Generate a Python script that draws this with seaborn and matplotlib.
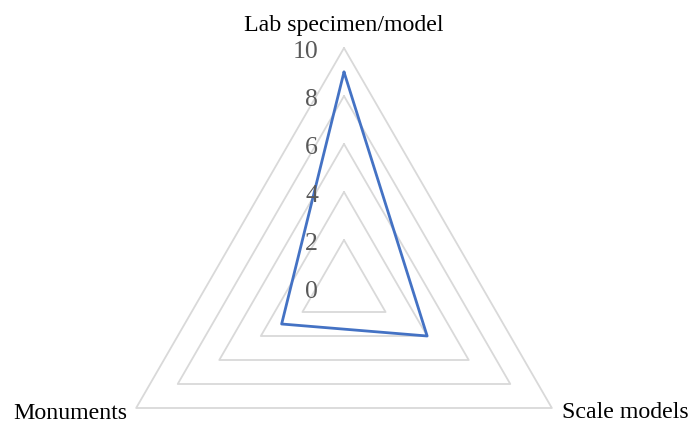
import numpy as np
import pandas as pd
import matplotlib
matplotlib.use("Agg")
import matplotlib.pyplot as plt
import seaborn as sns

categories = ["Lab specimen/model", "Scale models", "Monuments"]
values = [9, 4, 3]
ring_values = [2, 4, 6, 8, 10]
tick_labels = ["0", "2", "4", "6", "8", "10"]

sns.set_style("white")
plt.rcParams["font.family"] = ["Liberation Serif", "DejaVu Serif"]

W, H, DPI = 689, 424, 100
fig = plt.figure(figsize=(W / DPI, H / DPI), dpi=DPI)
cx, cy, R = 344, 288, 240
ax = fig.add_axes([(cx - R) / W, (H - cy - R) / H, 2 * R / W, 2 * R / H],
                  projection="polar")
ax.set_theta_offset(np.pi / 2)
ax.set_theta_direction(-1)
ax.set_ylim(0, 10)
ax.grid(False)
ax.spines["polar"].set_visible(False)
ax.set_xticks([])
ax.set_yticks([])
ax.patch.set_alpha(0)

n = len(categories)
angles = [2 * np.pi * i / n for i in range(n)]
closed = angles + angles[:1]

for rv in ring_values:
    ax.plot(closed, [rv] * (n + 1), color="#d9d9d9", lw=1.3, clip_on=False, zorder=1)

df = pd.DataFrame({"theta": closed, "value": values + values[:1]})
sns.lineplot(data=df, x="theta", y="value", sort=False, ax=ax,
             color="#4472C4", lw=2, clip_on=False, zorder=3, estimator=None)
ax.set_xlabel("")
ax.set_ylabel("")

for i, lab in enumerate(tick_labels):
    rv = 2 * i
    ax.annotate(lab, xy=(0, rv), xytext=(-26, -4), textcoords="offset pixels",
                ha="right", va="center", fontsize=18.5, color="#595959",
                annotation_clip=False)

offsets = [((0, 22), "center", "center"),
           ((10, -5), "left", "center"),
           ((-9, -5), "right", "center")]
for ang, lab, (off, ha, va) in zip(angles, categories, offsets):
    ax.annotate(lab, xy=(ang, 10), xytext=off, textcoords="offset pixels",
                ha=ha, va=va, fontsize=17.2, color="black",
                annotation_clip=False)

fig.savefig("out.png", dpi=DPI)
